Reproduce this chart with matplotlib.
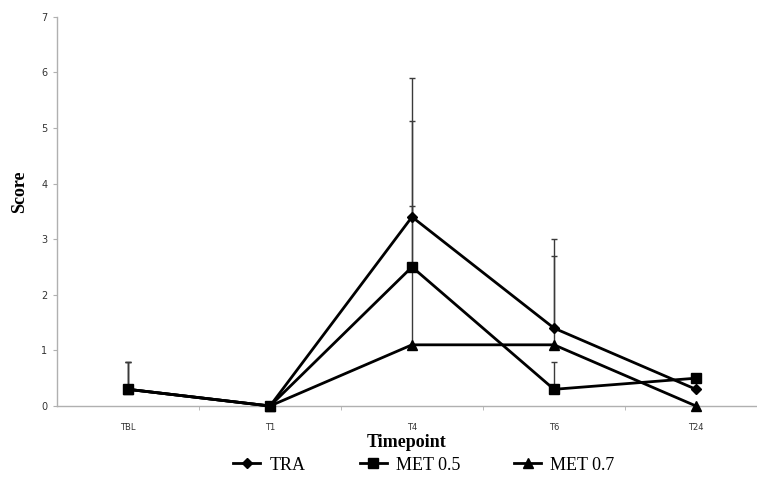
import matplotlib.pyplot as plt
import numpy as np

timepoints = ["TBL", "T1", "T4", "T6", "T24"]

tra = [0.3, 0.0, 3.4, 1.4, 0.3]
met05 = [0.3, 0.0, 2.5, 0.3, 0.5]
met07 = [0.3, 0.0, 1.1, 1.1, 0.0]

# only the upper half of the error bars is shown
tra_err = [0.5, 0.0, 2.5, 1.6, 0.0]
met05_err = [0.5, 0.0, 2.63, 0.5, 0.0]
met07_err = [0.5, 0.0, 2.5, 1.6, 0.0]

x = np.arange(len(timepoints)) + 0.5

fig = plt.figure(figsize=(7.57, 4.78), dpi=100)
ax = fig.add_axes([57 / 757, 72 / 478, 700 / 757, 389.3 / 478])

series = [
    (tra, tra_err, "D", 5, "TRA"),
    (met05, met05_err, "s", 6.5, "MET 0.5"),
    (met07, met07_err, "^", 6.5, "MET 0.7"),
]

for vals, err, mk, ms, lab in series:
    ax.errorbar(x, vals, yerr=[np.zeros(len(err)), err], fmt="none",
                ecolor="#3a3a3a", elinewidth=1.0, capsize=2.5, capthick=1.0,
                zorder=2)
    ax.plot(x, vals, color="black", lw=2, marker=mk, ms=ms, label=lab,
            zorder=3, clip_on=False)

ax.set_xlim(0, 700 / 142)
ax.set_ylim(0, 7)
ax.set_yticks(range(0, 8))
ax.set_xticks(x)
ax.set_xticklabels(timepoints)
ax.set_xticks(np.arange(1, 5), minor=True)
ax.tick_params(axis="x", which="major", length=0, labelsize=6, pad=12,
               labelcolor="#333333")
ax.tick_params(axis="x", which="minor", length=3, color="#b0b0b0")
ax.tick_params(axis="y", length=3, color="#b0b0b0", labelsize=7,
               labelcolor="#333333", pad=4)

for s in ["top", "right"]:
    ax.spines[s].set_visible(False)
for s in ["left", "bottom"]:
    ax.spines[s].set_color("#b0b0b0")
    ax.spines[s].set_linewidth(1.0)

ax.set_ylabel("Score", family="Liberation Serif", fontweight="bold",
              fontsize=13)
ax.yaxis.set_label_coords(-0.041, 0.55)
ax.set_xlabel("Timepoint", family="Liberation Serif", fontweight="bold",
              fontsize=13, labelpad=2)

fig.legend(loc="center", bbox_to_anchor=(0.56, 1 - 465 / 478), ncol=3,
           frameon=False, prop={"family": "Liberation Serif", "size": 13},
           handlelength=1.5, columnspacing=3.0, handletextpad=0.5)

fig.savefig("out.png", dpi=100)
